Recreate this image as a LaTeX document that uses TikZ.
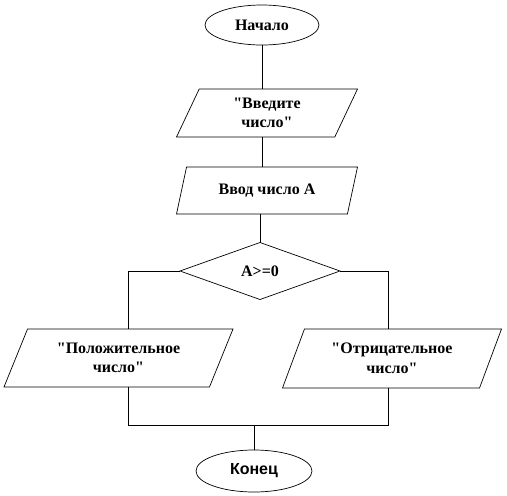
\documentclass[tikz,border=0pt]{standalone}
\usepackage{fontspec}
\setmainfont{Liberation Serif}
\newfontfamily\arialfont{Liberation Sans}
\usetikzlibrary{shapes.geometric}
\newcommand{\qq}{\textquotedbl}
\tikzset{
  base/.style={draw=black, line width=0.7pt, fill=white, inner sep=0pt, outer sep=0pt,
    align=center, font=\fontsize{16}{19.5}\selectfont\bfseries},
  term/.style={base, ellipse, minimum width=114pt, minimum height=40pt},
  io/.style={base, trapezium, trapezium stretches body, trapezium left angle=#1,
    trapezium right angle=180-#1},
  cond/.style={base, diamond, minimum width=160pt, minimum height=57pt},
  conn/.style={draw=black, line width=0.7pt}
}
\begin{document}
\begin{tikzpicture}[x=1pt, y=-1pt]
\useasboundingbox[fill=white] (0,0) rectangle (507,496);

\node[term] (start) at (262,25) {Начало};
\node[io=53, minimum width=181pt, minimum height=48pt] (p1) at (267,113) {\qq Введите\\число\qq};
\node[io=53, minimum width=181pt, minimum height=47pt] (p2) at (267,190.5) {Ввод число А};
\node[cond] (d) at (260,271) {А>=0};
\node[io=52, minimum width=229pt, minimum height=58pt] (L) at (118.5,358) {\qq Положительное\\число\qq};
\node[io=54, minimum width=219pt, minimum height=59pt] (R) at (392,358.5) {\qq Отрицательное\\число\qq};
\node[term, font=\fontsize{16}{19}\selectfont\bfseries\arialfont, minimum width=116pt, minimum height=42pt] (end) at (254,471) {Конец};
\coordinate (m) at (254,425);

\draw[conn] (start.south) -- (start.south |- p1.north);
\draw[conn] (p1.south -| start.south) -- (p2.north -| start.south);
\draw[conn] (p2.south -| d.north) -- (d.north);
\draw[conn] (d.west) -| ([xshift=9.5pt]L.north);
\draw[conn] (d.east) -| ([xshift=-4pt]R.north);
\draw[conn] ([xshift=9.5pt]L.south) |- (m);
\draw[conn] ([xshift=-4pt]R.south) |- (m);
\draw[conn] (m) -- (end.north);
\end{tikzpicture}
\end{document}
